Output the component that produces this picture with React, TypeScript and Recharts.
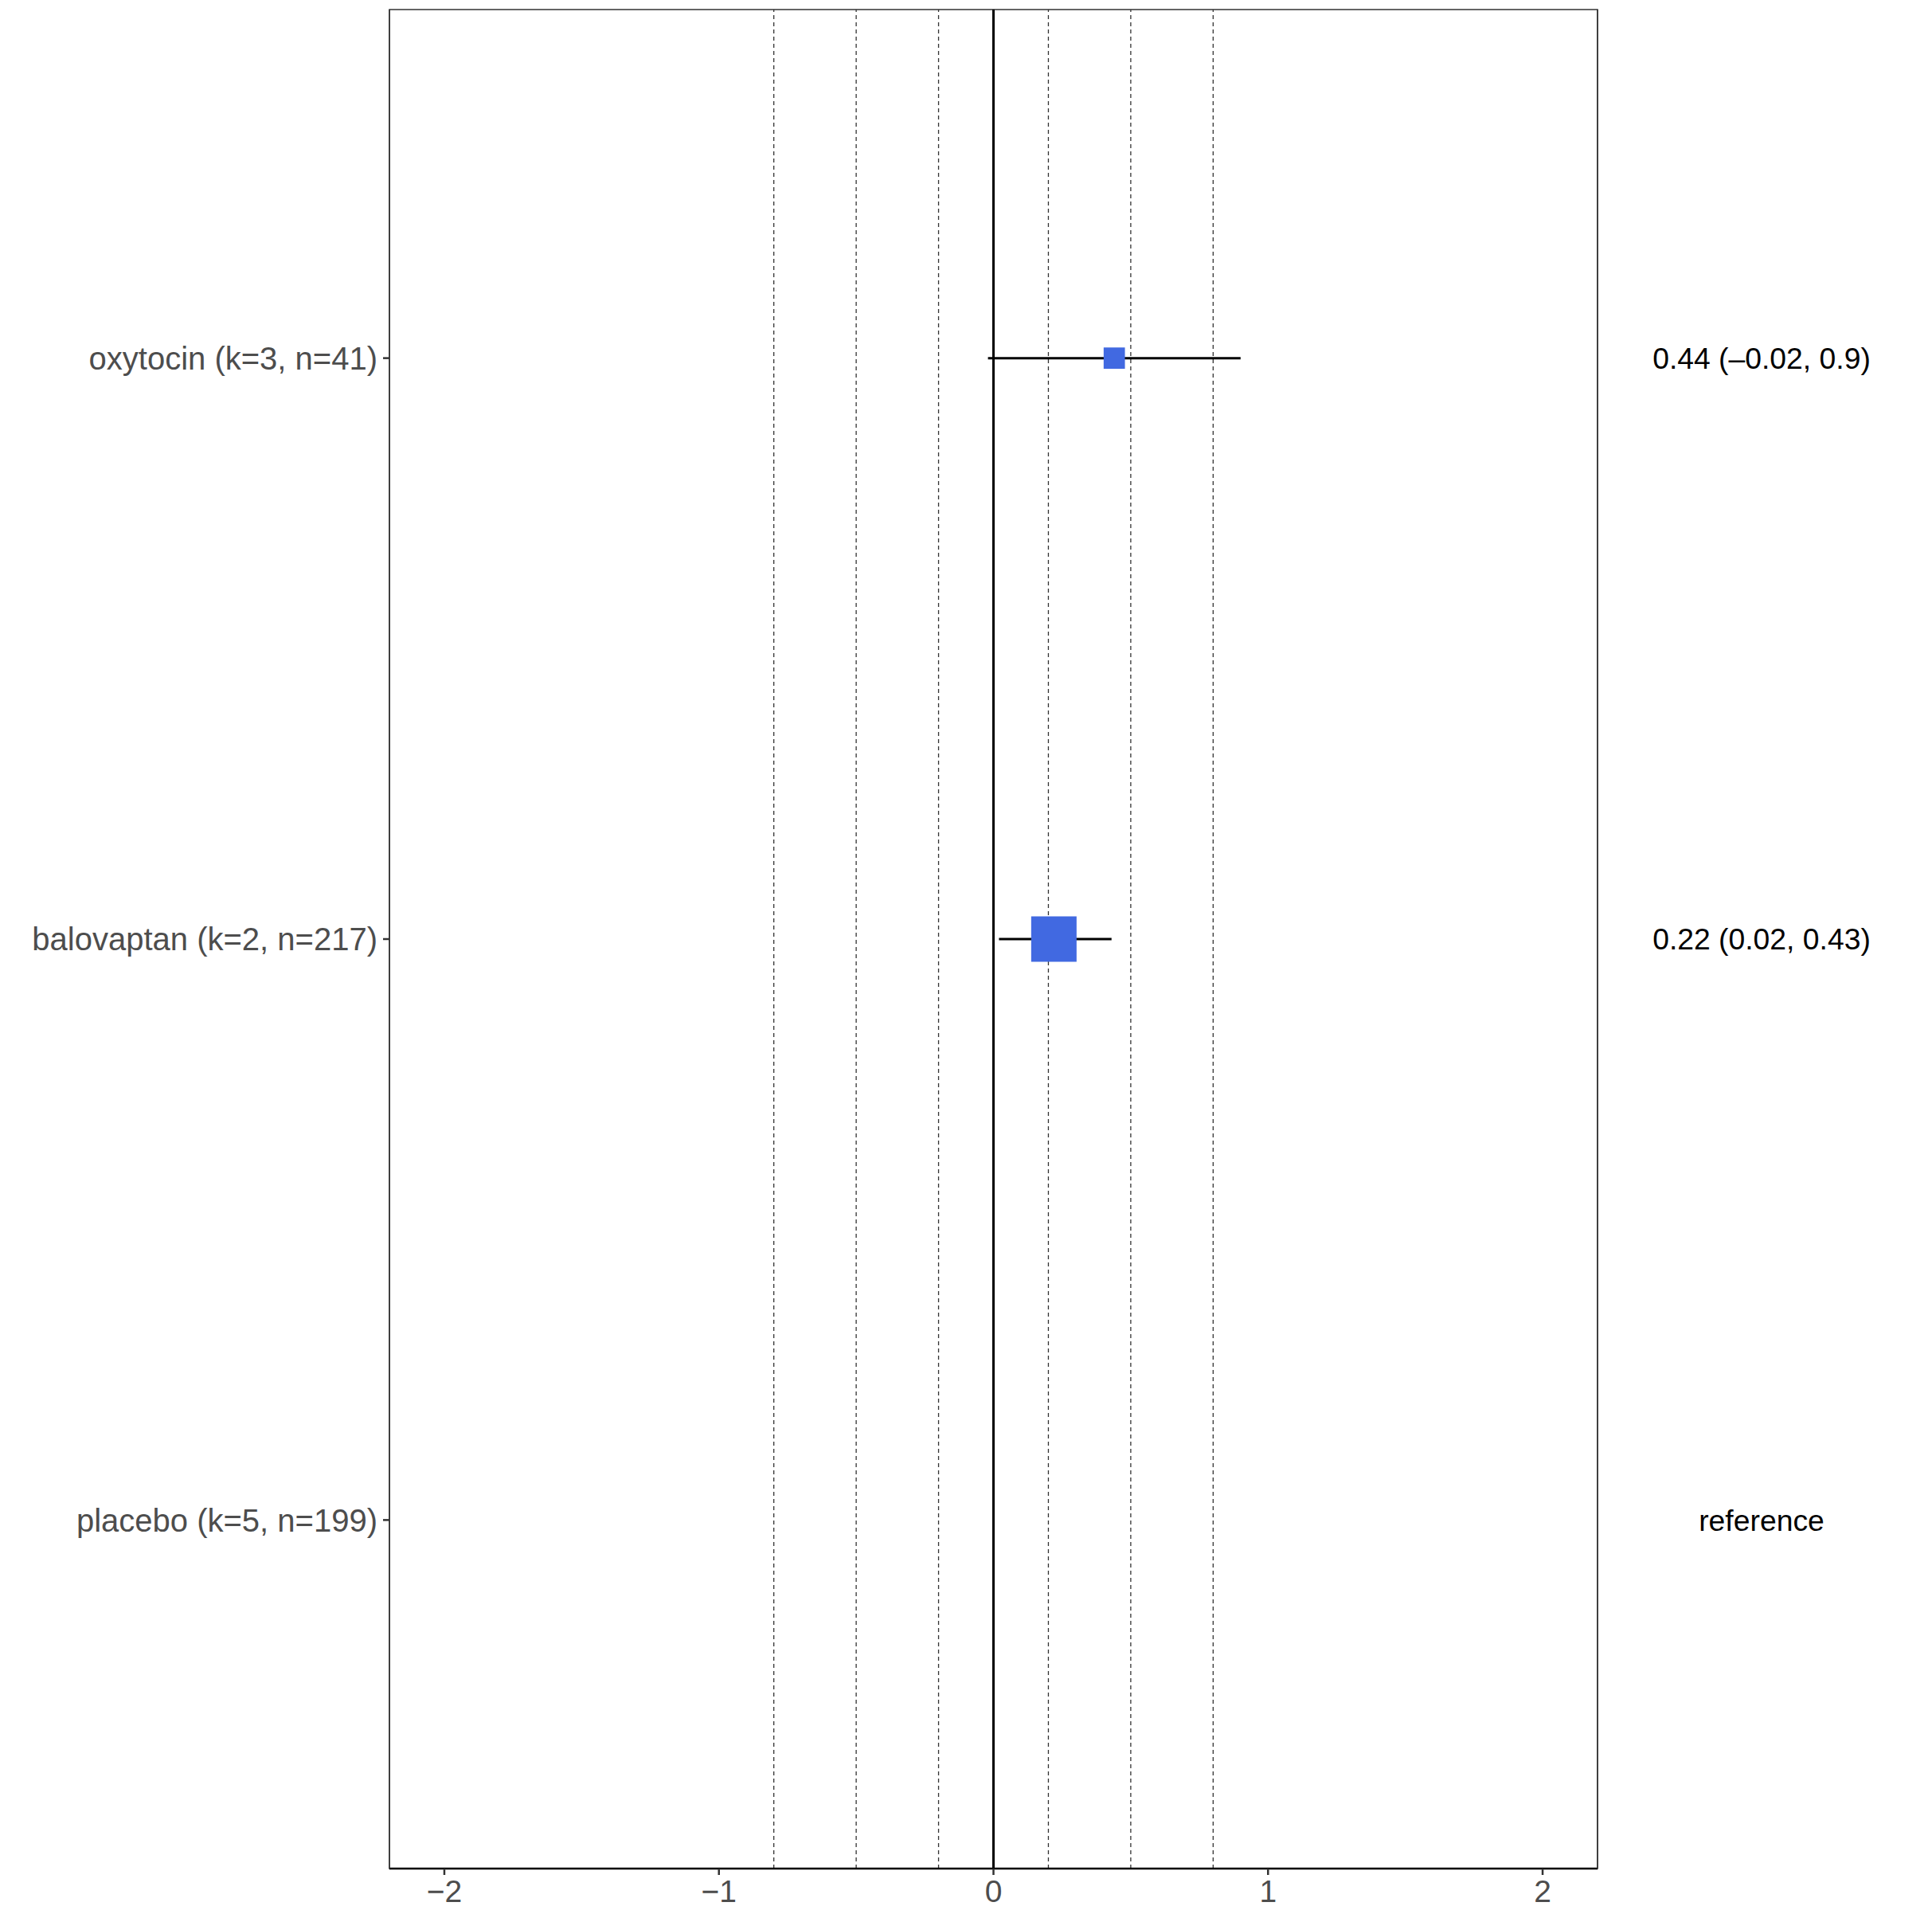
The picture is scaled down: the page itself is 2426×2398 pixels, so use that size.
import {
  ComposedChart,
  Scatter,
  XAxis,
  YAxis,
  ZAxis,
  ErrorBar,
  ReferenceLine,
  ReferenceArea,
} from "recharts";

// rows from bottom to top
const rowIds = [1, 2, 3];
const rowLabels = ["placebo (k=5, n=199)", "balovaptan (k=2, n=217)", "oxytocin (k=3, n=41)"];
const estimateLabels = ["reference", "0.22 (0.02, 0.43)", "0.44 (\u20130.02, 0.9)"];

// effects vs placebo
const treatments = ["oxytocin", "balovaptan"];
const treatmentRow = [3, 2];
const estimates = [0.44, 0.22];
const lower = [-0.02, 0.02];
const upper = [0.9, 0.43];
const weights = [0.22, 1];

const xTicks = [-2, -1, 0, 1, 2];
const thresholdLines = [-0.8, -0.5, -0.2, 0.2, 0.5, 0.8];

const effects = treatments.map((name, i) => ({
  name,
  x: estimates[i],
  y: treatmentRow[i],
  w: weights[i],
  ci: [estimates[i] - lower[i], upper[i] - estimates[i]],
}));

const FONT = "'Liberation Sans', Arial, Helvetica, sans-serif";

const fmtX = (v: number) => (v < 0 ? "\u2212" + Math.abs(v) : String(v));
const fmtRow = (v: number) => rowLabels[rowIds.indexOf(v)] ?? "";

function EstimateTick(props: any) {
  const { x, y, payload } = props;
  const label = estimateLabels[rowIds.indexOf(payload.value)] ?? "";
  return (
    <text x={x + 206} y={y} dy="0.355em" textAnchor="middle" fontSize={37.3} fill="#000" fontFamily={FONT}>
      {label}
    </text>
  );
}

export default function App() {
  return (
    <div style={{ position: "absolute", left: 0, top: 0, width: 2426, height: 2398, background: "#fff", fontFamily: FONT }}>
      <ComposedChart width={2426} height={2398} data={effects} margin={{ top: 12, right: 0, bottom: 0, left: 0 }}>
        <XAxis
          type="number"
          dataKey="x"
          domain={[-2.2, 2.2]}
          ticks={xTicks}
          allowDataOverflow
          height={52}
          tickSize={8}
          tickMargin={6}
          tickFormatter={fmtX}
          tick={{ fill: "#4d4d4d", fontSize: 39 }}
          axisLine={{ stroke: "#000", strokeWidth: 2.5 }}
          tickLine={{ stroke: "#333", strokeWidth: 2.5 }}
        />
        <YAxis
          yAxisId="left"
          type="number"
          dataKey="y"
          domain={[0.4, 3.6]}
          ticks={rowIds}
          allowDataOverflow
          width={489}
          tickSize={8}
          tickMargin={7}
          tickFormatter={fmtRow}
          tick={{ fill: "#4d4d4d", fontSize: 40 }}
          axisLine={{ stroke: "#333", strokeWidth: 1.5 }}
          tickLine={{ stroke: "#333", strokeWidth: 2.5 }}
        />
        <YAxis
          yAxisId="right"
          orientation="right"
          type="number"
          domain={[0.4, 3.6]}
          ticks={rowIds}
          allowDataOverflow
          width={420}
          tickSize={0}
          tickMargin={0}
          tickLine={false}
          tick={<EstimateTick />}
          axisLine={{ stroke: "#333", strokeWidth: 1.5 }}
        />
        <ZAxis dataKey="w" type="number" domain={[0, 1]} range={[0, 3249]} />
        <ReferenceArea
          yAxisId="left"
          x1={-2.2}
          x2={2.2}
          y1={0.4}
          y2={3.6}
          fill="none"
          stroke="#333"
          strokeWidth={1.5}
          ifOverflow="visible"
        />
        {thresholdLines.map((v) => (
          <ReferenceLine
            key={v}
            yAxisId="left"
            x={v}
            stroke="#333"
            strokeWidth={1.3}
            strokeDasharray="5 4"
          />
        ))}
        <ReferenceLine yAxisId="left" x={0} stroke="#000" strokeWidth={3} />
        <Scatter yAxisId="left" data={effects} isAnimationActive={false} shape={() => <g />}>
          <ErrorBar dataKey="ci" direction="x" width={0} stroke="#000" strokeWidth={3} />
        </Scatter>
        <Scatter yAxisId="left" data={effects} isAnimationActive={false} shape="square" fill="#4169E1" />
      </ComposedChart>
    </div>
  );
}
